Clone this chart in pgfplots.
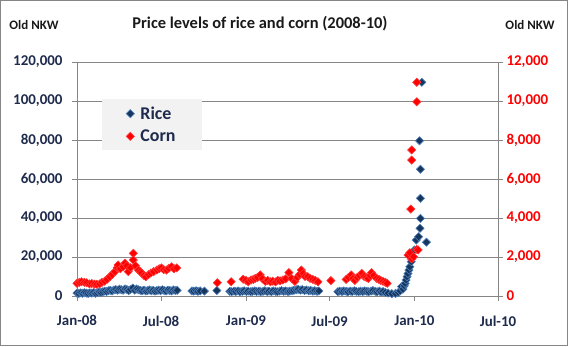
\documentclass[border=0pt]{standalone}
\usepackage{fontspec}
\setmainfont{Carlito}
\usepackage{pgfplots}
\pgfplotsset{compat=1.18}
\definecolor{navy}{HTML}{1F2B4D}
\definecolor{ricefill}{HTML}{17365D}
\definecolor{riceedge}{HTML}{4F81BD}
\definecolor{cornred}{HTML}{FF0000}
\definecolor{cornedge}{HTML}{FF3B3B}
\definecolor{gridgray}{HTML}{868686}
\definecolor{legfill}{HTML}{F2F2F2}
\pgfplotsset{
  ricestyle/.style={only marks, mark=square*, mark size=2.9bp, mark options={rotate=45, fill=ricefill, draw=riceedge, line width=0.6bp}},
  cornstyle/.style={only marks, mark=square*, mark size=2.9bp, mark options={rotate=45, fill=cornred, draw=cornedge, line width=0.6bp}},
}
\begin{document}
\begin{tikzpicture}[x=1bp,y=1bp]
\useasboundingbox (0,0) rectangle (568,346);
\draw[color=gridgray, line width=0.8bp] (0.5,0.5) rectangle (567.5,345.5);
\node[font=\fontsize{16.5}{20}\selectfont\bfseries, text=black!90] at (260,322) {Price levels of rice and corn (2008-10)};
\node[font=\fontsize{13}{15}\selectfont\bfseries, text=black!90] at (34,321) {Old NKW};
\node[font=\fontsize{13}{15}\selectfont\bfseries, text=black!90] at (530,321) {Old NKW};
\begin{axis}[
  at={(77bp,50bp)}, anchor=south west, scale only axis,
  width=421bp, height=234bp,
  xmin=0, xmax=912, ymin=0, ymax=120000,
  clip=false,
  axis line style={gridgray, line width=0.75bp},
  xtick pos=left, ytick pos=left,
  tick align=outside, major tick length=5bp,
  tick style={gridgray, line width=0.75bp},
  ymajorgrids, grid style={gridgray, line width=0.75bp},
  ytick={0,20000,40000,60000,80000,100000,120000},
  scaled y ticks=false,
  yticklabel style={font=\fontsize{15}{17}\selectfont\bfseries, text=navy, xshift=-6bp,
     /pgf/number format/.cd, fixed, 1000 sep={,}, assume math mode=true},
  xtick={0,182,366,547,731,912},
  xticklabels={Jan-08,Jul-08,Jan-09,Jul-09,Jan-10,Jul-10},
  xticklabel style={font=\fontsize{15}{17}\selectfont\bfseries, text=navy, yshift=-11bp},
  legend style={at={(0.0594,0.842)}, anchor=north west, fill=legfill, draw=none,
     font=\fontsize{18}{20}\selectfont\bfseries, text=navy,
     inner xsep=24bp, inner ysep=5.5bp, row sep=5bp,
     /tikz/every odd column/.append style={column sep=4bp}},
  legend cell align=left,
]
\addplot[ricestyle] coordinates {
(0,1500)(4,1300)(8,1600)(12,1400)(16,1700)(20,1500)(24,1300)(28,1600)(32,1500)(36,1800)(40,1400)(44,1700)(48,2000)(52,1800)(56,2200)(60,2500)(64,2300)(68,2700)(72,2900)(76,2600)(80,3100)(84,3300)(88,3000)(92,3500)(96,3200)(100,3000)(104,3600)(108,3300)(112,2800)(116,3400)(121,4100)(125,3000)(129,3600)(133,3200)(137,2900)(141,2700)(145,3000)(149,2600)(153,2800)(157,3100)(161,2700)(165,2900)(169,2500)(173,2800)(177,3000)(181,2700)(185,3200)(189,2800)(193,2600)(197,3000)(201,2800)(205,2600)(209,3100)(213,2800)(217,2900)
(249,2600)(253,2500)(258,2700)(262,2400)(267,2600)(276,2500)(303,2800)
(331,2400)(335,2200)(340,2500)(344,2300)(349,2600)(353,2200)(358,2400)(362,2700)(367,2300)(371,2500)(376,2200)(380,2400)(385,2600)(389,2300)(394,2500)(398,2200)(403,2400)(407,2700)(412,2300)(416,2500)(421,2200)(425,2600)(430,2400)(434,2200)(439,2500)(443,2800)(448,2400)(452,2600)(457,2300)(461,2500)(466,2700)(470,2900)(475,3200)(479,3400)(484,3000)(488,3300)(493,2800)(497,3100)(502,2700)(506,2900)(511,2500)(515,2700)(520,2400)(524,2600)
(565,2200)(569,2500)(574,2300)(578,2600)(583,2400)(587,2200)(592,2500)(596,2300)(601,2700)(605,2400)(610,2200)(614,2500)(619,2300)(623,2600)(628,2400)(632,2200)(637,2500)(641,2800)(646,2400)(650,2200)(655,2500)(659,2000)(663,2300)(668,1800)(674,1500)(682,1200)(690,1300)(696,1800)(700,2600)(703,4800)(706,3500)(709,5200)(711,6500)(713,8200)(715,9900)(717,11500)(719,13300)(721,15000)(724,17600)(727,20500)(731,23600)(735,28700)(740,30400)(743,34700)(744,39800)(744,50100)(744,65000)(742,79600)(747,109600)(757,27600)
};
\addlegendentry{Rice}
\addlegendimage{cornstyle}
\addlegendentry{Corn}
\end{axis}
\begin{axis}[
  at={(77bp,50bp)}, anchor=south west, scale only axis,
  width=421bp, height=234bp,
  xmin=0, xmax=912, ymin=0, ymax=12000,
  clip=false,
  axis x line=none, axis y line*=right,
  axis line style={gridgray, line width=0.75bp},
  tick align=outside, major tick length=5bp,
  tick style={gridgray, line width=0.75bp},
  ytick={0,2000,4000,6000,8000,10000,12000},
  scaled y ticks=false,
  yticklabel style={font=\fontsize{15}{17}\selectfont\bfseries, text=cornred,
     /pgf/number format/.cd, fixed, 1000 sep={,}, assume math mode=true},
]
\addplot[cornstyle] coordinates {
(0,650)(5,700)(10,730)(16,700)(21,680)(27,620)(32,640)(38,610)(43,600)(49,620)(54,700)(60,760)(65,850)(71,990)(76,1100)(82,1250)(87,1450)(89,1590)(94,1400)(100,1500)(104,1680)(108,1550)(111,1250)(116,1450)(122,2190)(122,1850)(127,1550)(133,1330)(137,1250)(140,1180)(145,1050)(149,990)(155,1100)(160,1180)(166,1250)(173,1330)(178,1400)(183,1440)(188,1350)(194,1330)(199,1420)(205,1500)(210,1400)(216,1440)
(304,680)(334,730)(360,860)(366,800)(371,730)(377,820)(382,850)(386,900)(391,950)(397,1080)(402,880)(408,750)(413,800)(419,730)(424,760)(430,720)(435,800)(440,780)(446,820)(452,880)(459,1200)(465,900)(472,750)(477,950)(482,1100)(486,1330)(490,1150)(494,1000)(500,990)(505,900)(511,850)(516,800)(522,730)
(550,790)(583,850)(588,950)(594,1080)(598,900)(602,800)(607,950)(612,1050)(617,1160)(622,1000)(627,950)(631,900)(635,1050)(638,1200)(643,1050)(649,900)(654,850)(658,800)(663,750)(668,700)(672,650)
(717,2100)(721,2220)(723,4460)(725,1900)(725,6970)(725,7490)(729,2010)(736,2390)(736,9960)(736,10960)(739,2360)
};
\end{axis}
\end{tikzpicture}
\end{document}
